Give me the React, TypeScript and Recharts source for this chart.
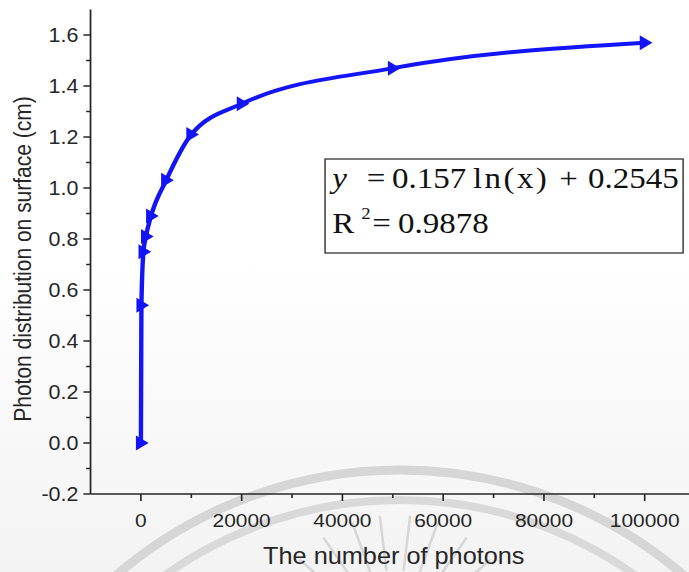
import React from "react";
import { LineChart, Line, XAxis, YAxis } from "recharts";

// measured spot spread vs. number of simulated photons
const photonCounts = [0, 100, 500, 1000, 2000, 5000, 10000, 20000, 50000, 100000];
const spreadCm = [0.0, 0.54, 0.75, 0.81, 0.89, 1.03, 1.21, 1.33, 1.47, 1.57];

const xMajorTicks = [0, 20000, 40000, 60000, 80000, 100000];
const xMinorTicks = [10000, 30000, 50000, 70000, 90000];
const yMajorTicks = [-0.2, 0, 0.2, 0.4, 0.6, 0.8, 1.0, 1.2, 1.4, 1.6];
const yMinorTicks = [-0.1, 0.1, 0.3, 0.5, 0.7, 0.9, 1.1, 1.3, 1.5];

const fitTerms = ["0.157", "ln(x)", "+", "0.2545"];
const fitR2 = "0.9878";

const data = photonCounts.map((n, i) => ({ photons: n, spread: spreadCm[i] }));

const INK = "#262626";
const BLUE = "#1414f8";
const SANS = "'Liberation Sans', Arial, sans-serif";
const SERIF = "'Liberation Serif', 'Times New Roman', serif";
const STRETCH = 1.1;

const YTick = (props: any) => {
  const { x, y, payload } = props;
  const major = yMajorTicks.includes(payload.value);
  return (
    <g>
      <line x1={x} x2={x - (major ? 6.5 : 4)} y1={y} y2={y} stroke={INK} strokeWidth={1.5} />
      {major && (
        <text x={x - 11} y={y} dy={7} textAnchor="end" fontSize={19.5} fontFamily={SANS} fill={INK}>
          {payload.value.toFixed(1)}
        </text>
      )}
    </g>
  );
};

const XTick = (props: any) => {
  const { x, y, payload } = props;
  const major = xMajorTicks.includes(payload.value);
  return (
    <g>
      <line x1={x} x2={x} y1={y} y2={y + (major ? 7 : 4)} stroke={INK} strokeWidth={1.5} />
      {major && (
        <text x={x} y={y + 33} textAnchor="middle" fontSize={19} fontFamily={SANS} fill={INK}>
          {payload.value}
        </text>
      )}
    </g>
  );
};

const Marker = (props: any) => {
  const { cx, cy } = props;
  return <path d={`M${cx - 4.5},${cy - 7.5} L${cx + 7},${cy} L${cx - 4.5},${cy + 7.5} Z`} fill={BLUE} />;
};

// faint seal watermark behind the plot
const Watermark = () => {
  const rays = [-140, -125, -110, -97, -83, -70, -55, -40];
  return (
    <svg width={689} height={572} style={{ position: "absolute", left: 0, top: 0 }}>
      <defs>
        <linearGradient id="haze" x1="0" y1="0" x2="0" y2="1">
          <stop offset="0.45" stopColor="#ffffff" />
          <stop offset="1" stopColor="#f3f3f3" />
        </linearGradient>
      </defs>
      <rect width={689} height={572} fill="url(#haze)" />
      <circle cx={400} cy={905} r={435} fill="none" stroke="#d6d6d6" strokeWidth={9} />
      <circle cx={400} cy={905} r={405} fill="none" stroke="#d9d9d9" strokeWidth={8} />
      {rays.map((a) => {
        const t = (a * Math.PI) / 180;
        return (
          <line
            key={a}
            x1={395 + 70 * Math.cos(t)}
            y1={640 + 70 * Math.sin(t)}
            x2={395 + 125 * Math.cos(t)}
            y2={640 + 125 * Math.sin(t)}
            stroke="#d6d6d6"
            strokeWidth={2.5}
          />
        );
      })}
    </svg>
  );
};

export default function App() {
  return (
    <div
      style={{
        position: "fixed",
        left: 0,
        top: 0,
        width: 689,
        height: 572,
        overflow: "hidden",
        background: "#ffffff",
      }}
    >
      <Watermark />
      <div style={{ position: "relative", width: 640, height: 572, transform: `scaleX(${STRETCH})`, transformOrigin: "0 0" }}>
        <LineChart width={640} height={572} data={data} margin={{ top: 9.5, right: 8.1, bottom: 0, left: 0 }}>
          <XAxis
            dataKey="photons"
            type="number"
            domain={[-10000, 110000]}
            ticks={[...xMajorTicks, ...xMinorTicks]}
            interval={0}
            height={78}
            tickSize={0}
            tickMargin={0}
            tickLine={false}
            tick={<XTick />}
            axisLine={{ stroke: INK, strokeWidth: 1.6 }}
            allowDataOverflow
          />
          <YAxis
            type="number"
            domain={[-0.2, 1.7]}
            ticks={[...yMajorTicks, ...yMinorTicks]}
            interval={0}
            width={82.3}
            tickSize={0}
            tickMargin={0}
            tickLine={false}
            tick={<YTick />}
            axisLine={{ stroke: INK, strokeWidth: 1.6 }}
            allowDataOverflow
          />
          <Line
            type="monotone"
            dataKey="spread"
            stroke={BLUE}
            strokeWidth={4}
            dot={(p: any) => <Marker key={`dot-${p.index}`} {...p} />}
            activeDot={false}
            isAnimationActive={false}
          />
        </LineChart>
        <svg width={640} height={572} style={{ position: "absolute", left: 0, top: 0, pointerEvents: "none" }}>
          <text
            x={28}
            y={259}
            transform="rotate(-90 28 259)"
            textAnchor="middle"
            fontSize={21}
            fontFamily={SANS}
            fill={INK}
          >
            Photon distribution on surface (cm)
          </text>
          <text x={358} y={564} textAnchor="middle" fontSize={23} fontFamily={SANS} fill={INK}>
            The number of photons
          </text>
          <rect x={295.5} y={159} width={325.5} height={94} fill="#ffffff" stroke="#333" strokeWidth={1.3} />
          <g fontFamily={SERIF} fontSize={30} fill="#111">
            <text x={302} y={188} fontStyle="italic">y</text>
            <text x={333.5} y={188}>=</text>
            <text x={356.4} y={188}>{fitTerms[0]}</text>
            <text x={430} y={188} letterSpacing={2.2}>{fitTerms[1]}</text>
            <text x={508.5} y={188}>{fitTerms[2]}</text>
            <text x={534.5} y={188}>{fitTerms[3]}</text>
            <text x={302} y={233}>R</text>
            <text x={328.5} y={219} fontSize={17}>2</text>
            <text x={338.5} y={233}>=</text>
            <text x={361.8} y={233}>{fitR2}</text>
          </g>
        </svg>
      </div>
    </div>
  );
}
